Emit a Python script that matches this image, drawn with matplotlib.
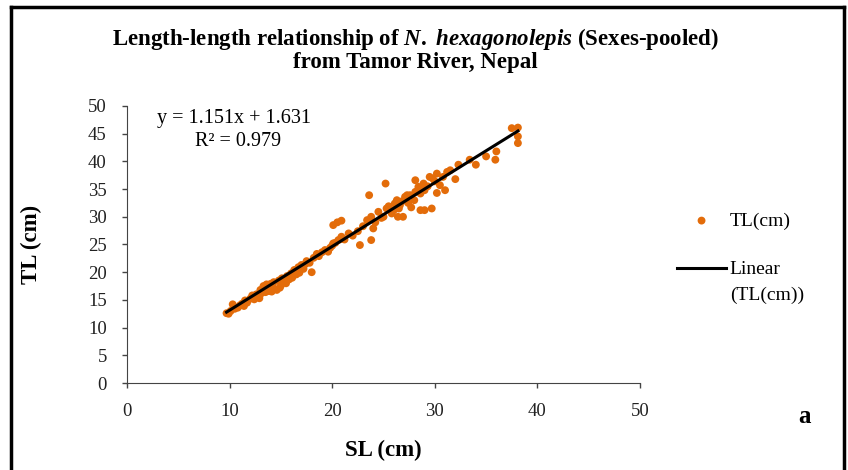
import matplotlib.pyplot as plt
from matplotlib.lines import Line2D
import numpy as np

#-----------------------------------------data-----------------------------------------
SL = [9.7, 9.9, 10.1, 10.3, 10.5, 10.8, 11.0, 11.2, 11.5, 11.7, 12.0, 12.2, 12.4, 12.6, 12.8,
      13.0, 13.1, 13.3, 13.5, 13.6, 13.8, 14.0, 14.1, 14.3, 14.4, 14.6, 14.8, 15.0, 15.1, 15.3,
      15.5, 15.6, 15.8, 16.0, 16.1, 16.3, 16.5, 16.7, 17.0, 17.2, 17.5, 17.8, 18.0, 18.2, 18.5,
      18.7, 19.0, 19.3, 19.6, 20.0, 20.3, 11.4, 12.9, 13.9, 14.9, 15.9, 16.8, 17.4, 19.8,
      20.1, 20.5, 20.9, 20.9, 21.6, 20.1, 20.6, 21.2, 22.0, 22.7, 23.8, 24.0, 23.4, 23.8, 24.5,
      25.3, 25.0, 25.8, 26.3, 26.6, 27.3, 26.4, 26.9, 25.2, 23.6, 22.5, 23.0, 24.8, 25.5, 26.0,
      26.1, 26.5, 26.8, 27.1, 27.6, 27.7, 28.1, 28.1, 28.4, 28.6, 29.0, 29.7, 28.9, 29.0, 29.5,
      30.2, 30.2, 30.5, 28.0, 28.6, 27.4, 29.3, 24.2, 21.0,
      30.8, 31.0, 31.2, 31.5, 32.0, 32.3, 33.4, 34.0, 35.0, 35.9, 36.0, 37.5, 38.1, 38.1, 38.1,
      30.0, 29.8]
TL = [12.6, 12.5, 13.0, 14.2, 13.4, 13.6, 14.0, 14.3, 14.9, 14.5, 15.2, 15.8, 15.1, 16.0, 15.6,
      16.8, 16.2, 17.5, 16.4, 17.8, 16.6, 17.9, 16.5, 18.2, 17.0, 16.8, 18.5, 17.6, 18.9, 18.2,
      18.0, 19.3, 18.7, 19.8, 19.0, 20.4, 19.6, 20.9, 21.3, 20.6, 22.0, 21.7, 20.0, 22.6, 23.3,
      22.9, 23.6, 24.0, 23.7, 24.8, 25.3, 13.9, 15.3, 17.3, 17.2, 19.5, 19.9, 21.5, 24.4,
      28.5, 29.0, 29.3, 26.4, 27.0, 25.2, 25.8, 25.9, 26.6, 24.9, 25.8, 27.9, 29.4, 30.0, 30.9,
      31.5, 30.0, 30.6, 33.0, 32.1, 33.9, 30.0, 30.0, 36.0, 33.9, 27.4, 28.3, 29.8, 31.9, 31.2,
      32.4, 31.5, 32.8, 33.6, 33.9, 31.7, 34.5, 36.6, 35.4, 31.2, 31.2, 31.5, 36.0, 34.8, 37.2,
      37.8, 34.3, 35.7, 33.0, 34.2, 32.5, 35.5, 29.0, 26.0,
      37.2, 34.8, 38.1, 38.4, 36.8, 39.4, 40.3, 39.4, 40.9, 40.3, 41.8, 46.0, 46.1, 44.5, 43.3,
      36.4, 36.9]

slope = 1.151
intercept = 1.631
r2 = 0.979

#-----------------------------------------plot-----------------------------------------
plt.rcParams['font.family'] = ['Liberation Serif', 'DejaVu Serif']
plt.rcParams['mathtext.fontset'] = 'custom'
plt.rcParams['mathtext.it'] = 'Liberation Serif:italic:bold'
plt.rcParams['mathtext.rm'] = 'Liberation Serif:bold'

fig = plt.figure(figsize=(8.48, 4.70), dpi=100)
ax = fig.add_axes([0.1498, 0.1851, 0.6049, 0.5894])

ax.scatter(SL, TL, s=32, color='#E36C0A', edgecolors='none', label='TL(cm)', zorder=2)
xs = np.array([min(SL), max(SL)])
ax.plot(xs, slope * xs + intercept, color='black', linewidth=2.2, label='Linear', zorder=3)

ax.set_xlim(0, 50)
ax.set_ylim(0, 50)
ax.set_xticks(np.arange(0, 51, 10))
ax.set_yticks(np.arange(0, 51, 5))
ax.tick_params(labelsize=13.5, length=3.6, width=1, color='#444444', labelcolor='#222222')
ax.tick_params(axis='x', pad=11)
ax.tick_params(axis='y', pad=11)
for side in ['top', 'right']:
	ax.spines[side].set_visible(False)
for side in ['left', 'bottom']:
	ax.spines[side].set_color('#444444')

ax.set_xlabel('SL (cm)', fontsize=16.5, fontweight='bold', labelpad=14)
ax.set_ylabel('TL (cm)', fontsize=16.5, fontweight='bold', labelpad=33)

ax.text(0.058, 0.955, 'y = 1.151x + 1.631', transform=ax.transAxes, fontsize=14.5, va='center')
ax.text(0.133, 0.872, 'R\u00b2 = 0.979', transform=ax.transAxes, fontsize=14.5, va='center')

fig.text(0.49, 0.916, 'Length-length relationship of $\\it{N.\\ hexagonolepis}$ (Sexes-pooled)',
         ha='center', va='center', fontsize=16.5, fontweight='bold')
fig.text(0.49, 0.866, 'from Tamor River, Nepal', ha='center', va='center', fontsize=16.5, fontweight='bold')

# legend: Excel puts the line sample next to the first text line
leg = fig.legend(loc='upper left', bbox_to_anchor=(0.778, 0.586), frameon=False, fontsize=14,
                 handlelength=2.5, labelspacing=1.6, handletextpad=0.2, markerscale=1.0)
fig.text(0.861, 0.372, '(TL(cm))', ha='left', va='center', fontsize=14)

fig.text(0.949, 0.113, 'a', ha='center', va='center', fontsize=18, fontweight='bold')

# border around the figure (bottom edge is cut off)
fig.add_artist(Line2D([0.013, 0.013], [0.0, 0.985], color='black', linewidth=2.5))
fig.add_artist(Line2D([0.013, 0.995], [0.985, 0.985], color='black', linewidth=2.5))
fig.add_artist(Line2D([0.995, 0.995], [0.0, 0.985], color='black', linewidth=2.5))

fig.savefig('out.png', dpi=100)
